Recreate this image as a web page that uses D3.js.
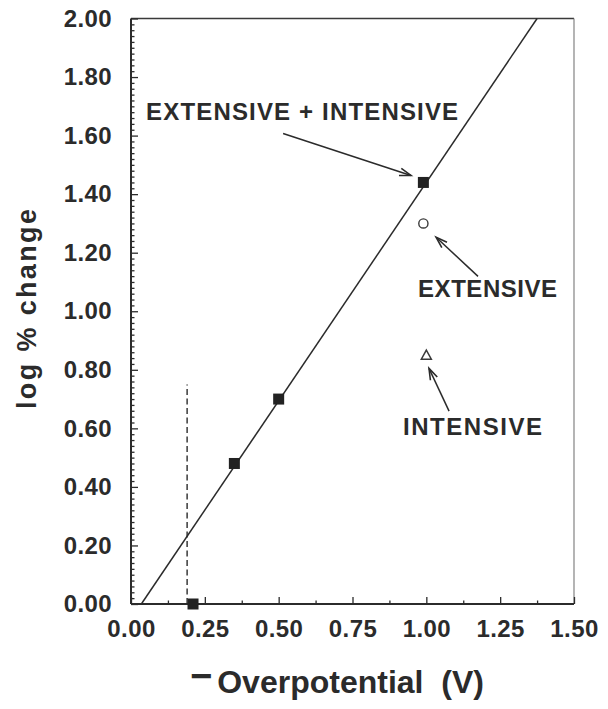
<!DOCTYPE html>
<html>
<head>
<meta charset="utf-8">
<script src="https://cdn.jsdelivr.net/npm/d3@7/dist/d3.min.js"></script>
<style>
  html, body { margin: 0; padding: 0; background: #fff; }
  svg { display: block; }
  text { font-family: "Liberation Sans", Arial, Helvetica, sans-serif; font-weight: bold; fill: #2b2b2b; }
</style>
</head>
<body>
<svg id="chart" width="608" height="709"></svg>
<script>
// Extensive + intensive growth series (filled squares)
const comboX = [0.21, 0.35, 0.50, 0.99];
const comboY = [0.00, 0.48, 0.70, 1.44];
// Extensive-only point (open circle)
const extensiveX = [0.99];
const extensiveY = [1.30];
// Intensive-only point (open triangle)
const intensiveX = [1.00];
const intensiveY = [0.85];
// Fitted straight line end points
const fitX = [0.035, 1.375];
const fitY = [0.00, 2.00];
// Dashed vertical threshold marker
const thresholdX = [0.19, 0.19];
const thresholdY = [0.00, 0.75];
// Axis ticks
const xTicks = [0.00, 0.25, 0.50, 0.75, 1.00, 1.25, 1.50];
const yTicks = [0.00, 0.20, 0.40, 0.60, 0.80, 1.00, 1.20, 1.40, 1.60, 1.80, 2.00];
const xTickLabels = ["0.00", "0.25", "0.50", "0.75", "1.00", "1.25", "1.50"];
const yTickLabels = ["0.00", "0.20", "0.40", "0.60", "0.80", "1.00", "1.20", "1.40", "1.60", "1.80", "2.00"];

const svg = d3.select("#chart");
const plotL = 131, plotR = 574, plotT = 18.5, plotB = 604;
const ink = "#2b2b2b";

const x = d3.scaleLinear().domain([0, 1.5]).range([plotL, plotR]);
const y = d3.scaleLinear().domain([0, 2.0]).range([plotB, plotT]);

// frame
svg.append("line").attr("x1", plotL).attr("x2", plotR).attr("y1", plotT).attr("y2", plotT)
  .attr("stroke", "#3a3a3a").attr("stroke-width", 1.6);
svg.append("line").attr("x1", plotR).attr("x2", plotR).attr("y1", plotT).attr("y2", plotB)
  .attr("stroke", "#777").attr("stroke-width", 1.1);

// minor ticks
const yMinor = d3.range(0, 2.0001, 0.02).filter(v => Math.abs(v * 5 - Math.round(v * 5)) > 1e-6);
const xMinor = d3.range(0.125, 1.5, 0.25);

const gyMinor = svg.append("g").attr("transform", `translate(${plotL},0)`)
  .call(d3.axisLeft(y).tickValues(yMinor).tickSize(-3.5).tickFormat(""));
const gxMinor = svg.append("g").attr("transform", `translate(0,${plotB})`)
  .call(d3.axisBottom(x).tickValues(xMinor).tickSize(-3.5).tickFormat(""));

// major ticks with labels
const gy = svg.append("g").attr("transform", `translate(${plotL},0)`)
  .call(d3.axisLeft(y).tickValues(yTicks).tickSize(-7).tickPadding(19)
    .tickFormat((d, i) => yTickLabels[i]));
const gx = svg.append("g").attr("transform", `translate(0,${plotB})`)
  .call(d3.axisBottom(x).tickValues(xTicks).tickSize(-7).tickPadding(16)
    .tickFormat((d, i) => xTickLabels[i]));

[gyMinor, gxMinor, gy, gx].forEach(g => {
  g.select(".domain").remove();
  g.selectAll(".tick line").attr("stroke", ink).attr("stroke-width", 1.3);
  g.selectAll("text").attr("font-size", 24).attr("fill", ink)
    .attr("font-family", "'Liberation Sans', Arial, sans-serif").attr("font-weight", "bold")
    .attr("letter-spacing", 0.4);
});

// axis lines
svg.append("line").attr("x1", plotL).attr("x2", plotL).attr("y1", plotT).attr("y2", plotB)
  .attr("stroke", ink).attr("stroke-width", 2);
svg.append("line").attr("x1", plotL).attr("x2", plotR).attr("y1", plotB).attr("y2", plotB)
  .attr("stroke", ink).attr("stroke-width", 2);

// fitted line
const line = d3.line().x(d => x(d[0])).y(d => y(d[1]));
svg.append("path").datum(d3.zip(fitX, fitY)).attr("d", line)
  .attr("fill", "none").attr("stroke", ink).attr("stroke-width", 1.5);

// dashed threshold
svg.append("path").datum(d3.zip(thresholdX, thresholdY)).attr("d", line)
  .attr("fill", "none").attr("stroke", ink).attr("stroke-width", 1.4)
  .attr("stroke-dasharray", "6,3.5");

// squares
const sq = 11;
svg.selectAll("rect.combo").data(d3.zip(comboX, comboY)).join("rect")
  .attr("class", "combo")
  .attr("x", d => x(d[0]) - sq / 2).attr("y", d => y(d[1]) - sq / 2)
  .attr("width", sq).attr("height", sq).attr("fill", "#222");

// open circle
svg.selectAll("circle.ext").data(d3.zip(extensiveX, extensiveY)).join("circle")
  .attr("class", "ext")
  .attr("cx", d => x(d[0])).attr("cy", d => y(d[1])).attr("r", 4.6)
  .attr("fill", "none").attr("stroke", "#3a3a3a").attr("stroke-width", 1.4);

// open triangle
svg.selectAll("path.int").data(d3.zip(intensiveX, intensiveY)).join("path")
  .attr("class", "int")
  .attr("d", d => {
    const cx = x(d[0]), cy = y(d[1]);
    return `M${cx},${cy - 5} L${cx + 5},${cy + 4} L${cx - 5},${cy + 4} Z`;
  })
  .attr("fill", "none").attr("stroke", "#3a3a3a").attr("stroke-width", 1.5)
  .attr("stroke-linejoin", "miter");

// annotation arrows (data coordinates: from, to)
const arrows = [
  [[0.515, 1.607], [0.948, 1.464]],
  [[1.175, 1.119], [1.033, 1.253]],
  [[1.077, 0.659], [1.009, 0.805]]
];
arrows.forEach(([a, b]) => {
  const x1 = x(a[0]), y1 = y(a[1]), x2 = x(b[0]), y2 = y(b[1]);
  const ang = Math.atan2(y2 - y1, x2 - x1);
  const L = 12, spread = 0.32;
  svg.append("line").attr("x1", x1).attr("y1", y1).attr("x2", x2).attr("y2", y2)
    .attr("stroke", ink).attr("stroke-width", 1.5);
  const p1 = [x2 - L * Math.cos(ang - spread), y2 - L * Math.sin(ang - spread)];
  const p2 = [x2 - L * Math.cos(ang + spread), y2 - L * Math.sin(ang + spread)];
  svg.append("path").attr("d", `M${p1[0]},${p1[1]} L${x2},${y2} L${p2[0]},${p2[1]}`)
    .attr("fill", "none").attr("stroke", ink).attr("stroke-width", 1.6)
    .attr("stroke-linejoin", "miter");
});

// annotation labels
const labels = [
  { text: "EXTENSIVE + INTENSIVE", at: [0.051, 1.652], len: 312 },
  { text: "EXTENSIVE", at: [0.972, 1.048], len: 139 },
  { text: "INTENSIVE", at: [0.921, 0.577], len: 139 }
];
labels.forEach(l => {
  svg.append("text").attr("x", x(l.at[0])).attr("y", y(l.at[1]))
    .attr("font-size", 24).attr("textLength", l.len).attr("lengthAdjust", "spacing")
    .style("white-space", "pre")
    .text(l.text);
});

// axis titles
svg.append("text")
  .attr("transform", "translate(36,309) rotate(-90)")
  .attr("text-anchor", "middle").attr("font-size", 27)
  .attr("textLength", 200).attr("lengthAdjust", "spacing")
  .text("log % change");

const xt = svg.append("text").attr("x", 190).attr("y", 693).attr("font-size", 32)
  .style("white-space", "pre");
xt.append("tspan").attr("font-size", 38).attr("dy", -4).text("\u2212");
xt.append("tspan").attr("dx", 5).attr("dy", 4).text("Overpotential  (V)");
</script>
</body>
</html>
